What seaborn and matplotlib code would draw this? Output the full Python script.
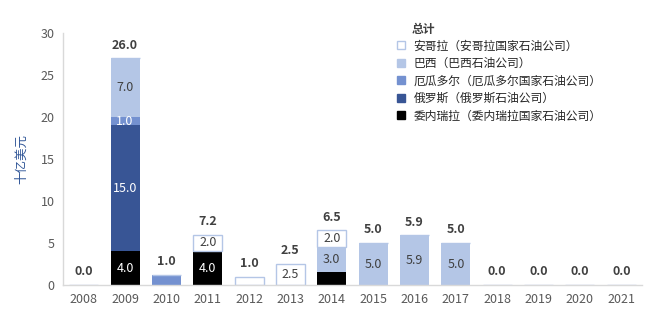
import matplotlib
matplotlib.use("Agg")
import matplotlib.pyplot as plt
import seaborn as sns
import pandas as pd
from matplotlib.patches import Patch

years = [str(y) for y in range(2008, 2022)]
venezuela = [0, 4.0, 0, 4.0, 0, 0, 1.5, 0, 0, 0, 0, 0, 0, 0]
russia = [0, 15.0, 0, 0, 0, 0, 0, 0, 0, 0, 0, 0, 0, 0]
ecuador = [0, 1.0, 1.25, 0, 0, 0, 0, 0, 0, 0, 0, 0, 0, 0]
brazil = [0, 7.0, 0, 0, 0, 0, 3.0, 5.0, 5.9, 5.0, 0, 0, 0, 0]
angola = [0, 0, 0, 2.0, 1.0, 2.5, 2.0, 0, 0, 0, 0, 0, 0, 0]
totals = [0.0, 26.0, 1.0, 7.2, 1.0, 2.5, 6.5, 5.0, 5.9, 5.0, 0.0, 0.0, 0.0, 0.0]

series_names = ["委内瑞拉（委内瑞拉国家石油公司）", "俄罗斯（俄罗斯石油公司）",
                "厄瓜多尔（厄瓜多尔国家石油公司）", "巴西（巴西石油公司）",
                "安哥拉（安哥拉国家石油公司）"]
series_vals = [venezuela, russia, ecuador, brazil, angola]
face_colors = ["#000000", "#385595", "#7491d0", "#b4c6e6", "#ffffff"]
edge_colors = ["none", "none", "none", "none", "#b4c6e6"]
text_colors = ["white", "white", "white", "#404040", "#404040"]
# segments whose value label is not displayed: (series index, year)
hidden = {(0, "2014"), (2, "2010"), (4, "2012")}

sns.set_theme(style="white")
plt.rcParams["font.family"] = ["Noto Sans CJK SC", "DejaVu Sans"]

fig = plt.figure(figsize=(6.55, 3.33), dpi=100)
ax = fig.add_axes([63/655, 1-285/333, (642-63)/655, (285-33)/333])

bottom = [0.0]*len(years)
for i, (name, vals) in enumerate(zip(series_names, series_vals)):
    df = pd.DataFrame({"year": years, "value": vals})
    sns.barplot(data=df, x="year", y="value", order=years, ax=ax,
                color=face_colors[i], bottom=bottom, width=0.7,
                edgecolor=edge_colors[i] if edge_colors[i] != "none" else face_colors[i],
                linewidth=1.0 if edge_colors[i] != "none" else 0, saturation=1)
    for j, v in enumerate(vals):
        if v > 0 and (i, years[j]) not in hidden:
            ax.text(j, bottom[j] + v/2, f"{v:.1f}", ha="center", va="center",
                    color=text_colors[i], fontsize=9)
    bottom = [b + v for b, v in zip(bottom, vals)]

for j, t in enumerate(totals):
    ax.annotate(f"{t:.1f}", (j, bottom[j]), xytext=(0, 9.5), textcoords="offset points",
                ha="center", va="center", fontsize=9, fontweight="bold", color="#404040")

ax.set_ylim(0, 30)
ax.set_xlim(-0.5, len(years)-0.5)
ax.set_yticks(range(0, 31, 5))
ax.set_xlabel("")
ax.set_ylabel("十亿美元", color="#2f5597", fontsize=9, labelpad=9)
ax.tick_params(axis="both", labelsize=9, colors="#595959", length=0, pad=6)
for s in ["top", "right"]:
    ax.spines[s].set_visible(False)
for s in ["left", "bottom"]:
    ax.spines[s].set_color("#d9d9d9")
    ax.spines[s].set_linewidth(1.0)

handles = [Patch(facecolor=face_colors[i], edgecolor=(edge_colors[i] if edge_colors[i] != "none" else face_colors[i]),
                 linewidth=1.0) for i in range(5)][::-1]
labels = series_names[::-1]
fig.legend(handles, labels, loc="upper left", bbox_to_anchor=(397/655, 1-39.5/333),
           frameon=False, fontsize=8.5, handlelength=0.65, handleheight=0.65,
           handletextpad=0.75, labelspacing=0.38, borderpad=0, borderaxespad=0)
fig.text(412/655, 1-29/333, "总计", ha="left", va="center", fontsize=8.5,
         fontweight="bold", color="#404040")

fig.savefig("out.png", dpi=100)
